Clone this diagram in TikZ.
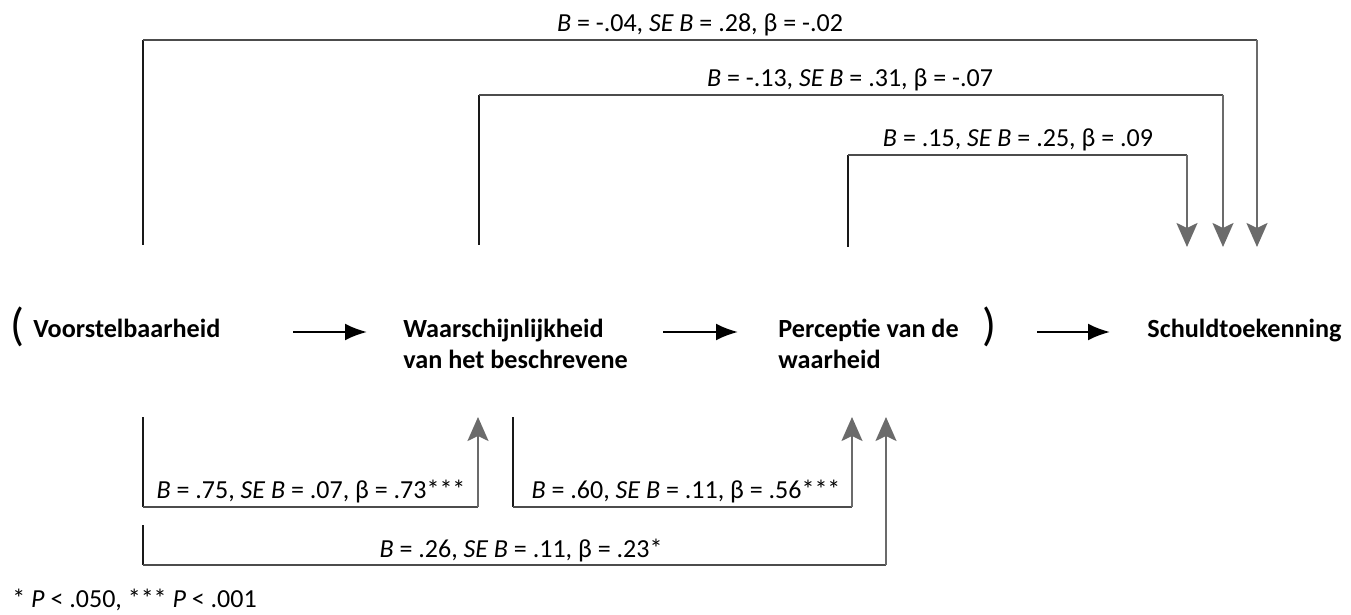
\documentclass[tikz,border=0pt]{standalone}
\usepackage{fontspec}
\setmainfont{Carlito}
\usetikzlibrary{arrows.meta}
\begin{document}
\begin{tikzpicture}[x=0.5pt,y=-0.5pt,
  lbl/.style={font=\fontsize{13}{15}\selectfont, inner sep=0pt, anchor=base},
  ttl/.style={font=\fontsize{13.1}{15.5}\selectfont\bfseries, inner sep=0pt, anchor=base west, align=left},
  par/.style={font=\fontsize{23}{23}\selectfont, inner sep=0pt},
  flow/.style={line width=1.2pt, -{Latex[length=11pt,width=8.5pt]}},
  lsrc/.style={line width=1.1pt, draw=black!90},
  lmid/.style={line width=1.1pt, draw=black!70},
  ldst/.style={line width=1.1pt, draw=black!58, -{Stealth[length=12pt,width=10.5pt,inset=2.5pt]}},
]
\useasboundingbox (0,0) rectangle (1351,615);

% main row
\node[par] (lp) at (17,327) {(};
\node[ttl] (v) at (33,337) {Voorstelbaarheid};
\node[ttl] (w) at (403,368) {Waarschijnlijkheid\\van het beschrevene};
\node[ttl] (p) at (778,368) {Perceptie van de\\waarheid};
\node[par] (rp) at (989,327) {)};
\node[ttl] (s) at (1147,337) {Schuldtoekenning};

\coordinate (a1s) at (293,332); \coordinate (a1e) at (367,332);
\coordinate (a2s) at (663,332); \coordinate (a2e) at (738,332);
\coordinate (a3s) at (1037,332); \coordinate (a3e) at (1110,332);
\draw[flow] (a1s) -- (a1e);
\draw[flow] (a2s) -- (a2e);
\draw[flow] (a3s) -- (a3e);

% top paths
\coordinate (t1s) at (143,245); \coordinate (t1a) at (143,40);
\coordinate (t1b) at (1257,40); \coordinate (t1e) at (1257,247);
\coordinate (t2s) at (479,245); \coordinate (t2a) at (479,95);
\coordinate (t2b) at (1223,95); \coordinate (t2e) at (1223,247);
\coordinate (t3s) at (848,247); \coordinate (t3a) at (848,155);
\coordinate (t3b) at (1187,155); \coordinate (t3e) at (1187,247);
\draw[lsrc] (t1s) -- (t1a) edge[lmid] (t1b) (t1b) edge[ldst] (t1e);
\draw[lsrc] (t2s) -- (t2a) edge[lmid] (t2b) (t2b) edge[ldst] (t2e);
\draw[lsrc] (t3s) -- (t3a) edge[lmid] (t3b) (t3b) edge[ldst] (t3e);

\node[lbl] (l1) at (700,32) {\textit{B} = -.04, \textit{SE B} = .28, β = -.02};
\node[lbl] (l2) at (850,87) {\textit{B} = -.13, \textit{SE B} = .31, β = -.07};
\node[lbl] (l3) at (1018,147) {\textit{B} = .15, \textit{SE B} = .25, β = .09};

% bottom paths
\coordinate (bAs) at (143,417); \coordinate (bAa) at (143,507);
\coordinate (bAb) at (478,507); \coordinate (bAe) at (478,417);
\coordinate (bBs) at (513,417); \coordinate (bBa) at (513,507);
\coordinate (bBb) at (852,507); \coordinate (bBe) at (852,417);
\coordinate (bCs) at (143,525); \coordinate (bCa) at (143,565);
\coordinate (bCb) at (886,565); \coordinate (bCe) at (886,417);
\draw[lsrc] (bAs) -- (bAa) edge[lmid] (bAb) (bAb) edge[ldst] (bAe);
\draw[lsrc] (bBs) -- (bBa) edge[lmid] (bBb) (bBb) edge[ldst] (bBe);
\draw[lsrc] (bCs) -- (bCa) edge[lmid] (bCb) (bCb) edge[ldst] (bCe);

\node[lbl] (lA) at (311,498) {\textit{B} = .75, \textit{SE B} = .07, β = .73***};
\node[lbl] (lB) at (686,498) {\textit{B} = .60, \textit{SE B} = .11, β = .56***};
\node[lbl] (lC) at (521,557) {\textit{B} = .26, \textit{SE B} = .11, β = .23*};

\node[lbl, anchor=base west] (fn) at (12,607) {* \textit{P} < .050, *** \textit{P} < .001};
\end{tikzpicture}
\end{document}
